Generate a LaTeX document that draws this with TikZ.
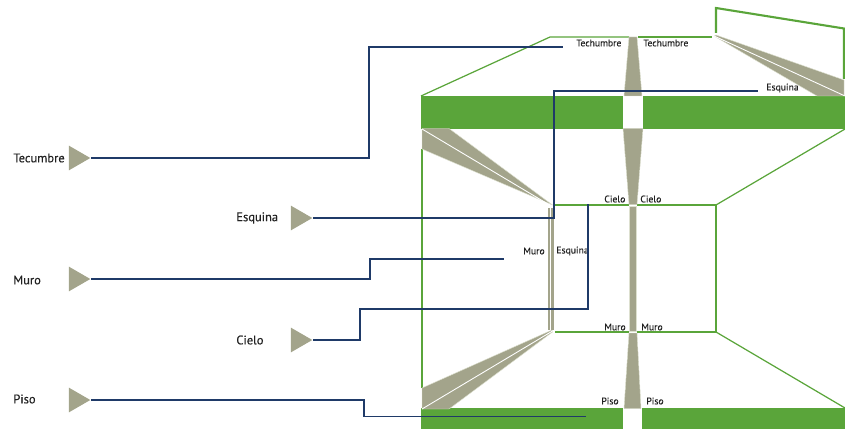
\documentclass[tikz,border=0pt]{standalone}
\usepackage{fontspec}
\setmainfont{PT Sans}[FakeBold=0.3]
\usetikzlibrary{positioning, calc, shapes.geometric}
\definecolor{bandgreen}{HTML}{5AA53A}
\definecolor{wedgegrey}{HTML}{A3A48B}
\definecolor{wedgeedge}{HTML}{DDE0CF}
\definecolor{leadnavy}{HTML}{1F3A68}
\definecolor{labelink}{HTML}{222222}

\begin{document}
\begin{tikzpicture}[
  x=0.02cm, y=-0.02cm,
  band/.style   = {fill=bandgreen},
  edgethin/.style  = {draw=bandgreen, line width=0.7pt},
  edgethick/.style = {draw=bandgreen, line width=1.2pt},
  wedge/.style  = {fill=wedgegrey, draw=wedgeedge, line width=0.25pt},
  split/.style  = {draw=white, line width=0.5pt},
  lead/.style   = {draw=leadnavy, line width=1.1pt},
  marker/.style = {isosceles triangle, isosceles triangle apex angle=60,
                   fill=wedgegrey, inner sep=0pt, minimum height=0.43cm,
                   anchor=apex},
  biglab/.style = {font=\fontsize{7.1}{8}\selectfont, text=labelink, inner sep=0pt, anchor=west},
  lab/.style    = {font=\fontsize{5.5}{6.5}\selectfont, text=labelink, inner sep=0pt, anchor=west},
]
  \useasboundingbox (0,0) rectangle (845,429);

  % ── green bands ───────────────────────────────────────────────────────
  \fill[band] (421,96)  rectangle (623,129);
  \fill[band] (643,96)  rectangle (845,129);
  \fill[band] (421,408) rectangle (623,429);
  \fill[band] (642,408) rectangle (845,429);

  % ── room outline ──────────────────────────────────────────────────────
  \draw[edgethin] (421,96) -- (550,37) -- (629,37);
  \draw[edgethin] (638,37) -- (712,37);
  \draw[edgethick] (716,33) -- (716,8) -- (844,28.5) -- (844,79);
  \draw[edgethick] (422,149) -- (422,388);
  \draw[edgethick] (555,205) -- (628.5,205);
  \draw[edgethick] (637,205) -- (716,205) -- (716,332) -- (637,332);
  \draw[edgethick] (555,332) -- (628.5,332);
  \draw[edgethin] (716,205) -- (845,129);
  \draw[edgethin] (716,332) -- (845,408);

  % ── grey joints, centre column ────────────────────────────────────────
  \filldraw[wedge] (629,37) -- (637,37) -- (642,96) -- (624,96) -- cycle;
  \filldraw[wedge] (623,128.5) -- (643,128.5) -- (637,204.5) -- (629,204.5) -- cycle;
  \filldraw[wedge] (629,206) rectangle (636.5,331);
  \filldraw[wedge] (629,333) -- (637,333) -- (641,408.5) -- (624,408.5) -- cycle;

  % ── grey joints, corners ──────────────────────────────────────────────
  \filldraw[wedge] (716,35) -- (844,80) -- (844,96) -- (817,96) -- (714,36) -- cycle;
  \draw[split] (713,35.5) -- (845,96);
  \filldraw[wedge] (422,128.5) -- (449,128.5) -- (552.5,205) -- (422,149) -- cycle;
  \draw[split] (422,129) -- (552,206.5);
  \filldraw[wedge] (422,388) -- (552,330) -- (552.5,332) -- (449,409) -- (422,409) -- cycle;
  \draw[split] (422,409) -- (552.5,331);
  \fill[wedgegrey] (548,208) rectangle (550.3,330);
  \fill[wedgegrey] (551.3,208) rectangle (554,330);

  % ── labels inside the room ────────────────────────────────────────────
  \node[lab] (labtechl) at (576,43)  {Techumbre};
  \node[lab] (labtechr) at (643,43)  {Techumbre};
  \node[lab] (labesqt)  at (766,88)  {Esquina};
  \node[lab] (labciel)  at (604,199) {Cielo};
  \node[lab] (labcier)  at (640,199) {Cielo};
  \node[lab] (labmurw)  at (523,251) {Muro};
  \node[lab] (labesqw)  at (556,251) {Esquina};
  \node[lab] (labmurl)  at (604,327) {Muro};
  \node[lab] (labmurr)  at (641,327) {Muro};
  \node[lab] (labpisl)  at (601,401) {Piso};
  \node[lab] (labpisr)  at (646,401) {Piso};

  % ── markers and their names ───────────────────────────────────────────
  \node[marker] (mtec) at (91,158)  {};
  \node[marker] (mesq) at (313,218) {};
  \node[marker] (mmur) at (91,279)  {};
  \node[marker] (mcie) at (313,340) {};
  \node[marker] (mpis) at (91,400)  {};

  \node[biglab] (ltec) at (13,158)  {Tecumbre};
  \node[biglab] (lesq) at (236,218) {Esquina};
  \node[biglab] (lmur) at (13,280)  {Muro};
  \node[biglab] (lcie) at (236,340) {Cielo};
  \node[biglab] (lpis) at (13,399)  {Piso};

  % ── leaders ───────────────────────────────────────────────────────────
  \coordinate (etec) at (563,47);
  \coordinate (eesq) at (758,91);
  \coordinate (emur) at (504,259);
  \coordinate (ecie) at (588,204);
  \coordinate (epis) at (586,416.5);

  \draw[lead] (mtec.apex) -- (369,158) |- (etec);
  \draw[lead] (mesq.apex) -- (554,218) |- (eesq);
  \draw[lead] (mmur.apex) -- (370,279) |- (emur);
  \draw[lead] (mcie.apex) -- (360,340) |- (588,309) -- (ecie);
  \draw[lead] (mpis.apex) -- (364,400) |- (epis);

\end{tikzpicture}
\end{document}
